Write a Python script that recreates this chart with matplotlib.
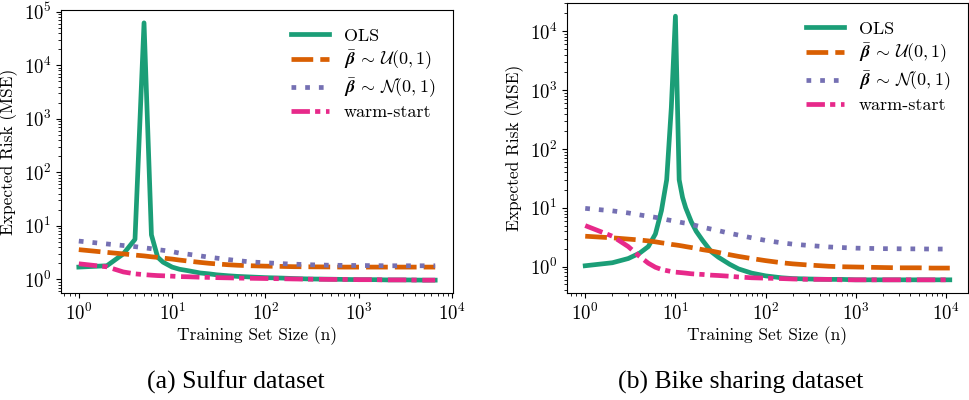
import matplotlib
matplotlib.use("Agg")
import matplotlib.pyplot as plt

plt.rcParams.update({
    "font.family": "serif",
    "font.serif": ["cmr10"],
    "mathtext.fontset": "cm",
    "axes.formatter.use_mathtext": True,
    "axes.unicode_minus": False,
    "font.size": 12.5,
    "xtick.labelsize": 13.5,
    "ytick.labelsize": 13.5,
    "legend.fontsize": 13,
})

# Sulfur dataset
n_sulfur = [1, 2, 3, 4, 5, 6, 7, 8, 10, 12, 15, 20, 25, 30, 40, 50, 70, 100, 150,
            200, 300, 500, 700, 1000, 1500, 2000, 3000, 5000, 6600]
ols_sulfur = [1.7, 1.8, 3.0, 5.6, 6.2e4, 6.8, 2.6, 2.1, 1.7, 1.55, 1.45, 1.32, 1.27,
              1.22, 1.17, 1.14, 1.11, 1.08, 1.06, 1.04, 1.02, 1.01, 1.0, 0.99, 0.99,
              0.98, 0.98, 0.97, 0.97]
unif_sulfur = [3.6, 3.2, 3.0, 2.85, 2.75, 2.65, 2.58, 2.5, 2.4, 2.3, 2.2, 2.08, 2.0,
               1.95, 1.88, 1.84, 1.8, 1.77, 1.75, 1.73, 1.72, 1.71, 1.7, 1.7, 1.7,
               1.7, 1.7, 1.7, 1.7]
norm_sulfur = [5.2, 4.6, 4.3, 4.1, 3.9, 3.75, 3.6, 3.5, 3.3, 3.1, 2.95, 2.75, 2.6,
               2.5, 2.35, 2.25, 2.12, 2.05, 1.97, 1.93, 1.88, 1.84, 1.83, 1.82, 1.81,
               1.8, 1.8, 1.8, 1.8]
warm_sulfur = [1.96, 1.72, 1.38, 1.27, 1.23, 1.2, 1.18, 1.17, 1.15, 1.13, 1.12, 1.1,
               1.09, 1.08, 1.07, 1.06, 1.05, 1.04, 1.03, 1.02, 1.01, 1.0, 1.0, 0.99,
               0.99, 0.98, 0.98, 0.97, 0.97]

# Bike sharing dataset
n_bike = [1, 2, 3, 4, 5, 6, 7, 8, 9, 10, 11, 12, 13, 15, 17, 20, 25, 30, 40, 50, 70,
          100, 150, 200, 300, 500, 700, 1000, 2000, 3000, 5000, 7000, 11000]
ols_bike = [1.04, 1.17, 1.38, 1.7, 2.2, 3.6, 9, 30, 500, 1.8e4, 30, 15, 10, 5.8, 4.0,
            2.8, 1.8, 1.45, 1.1, 0.92, 0.78, 0.7, 0.65, 0.63, 0.62, 0.61, 0.61, 0.6,
            0.6, 0.6, 0.6, 0.6, 0.6]
unif_bike = [3.3, 3.1, 2.95, 2.85, 2.75, 2.65, 2.55, 2.48, 2.4, 2.35, 2.3, 2.25, 2.2,
             2.12, 2.05, 1.95, 1.85, 1.75, 1.6, 1.5, 1.38, 1.27, 1.17, 1.12, 1.07,
             1.02, 1.0, 0.99, 0.97, 0.96, 0.96, 0.95, 0.95]
norm_bike = [9.8, 8.9, 8.2, 7.6, 7.2, 6.9, 6.6, 6.3, 6.1, 5.9, 5.75, 5.6, 5.5, 5.2,
             5.0, 4.7, 4.35, 4.1, 3.7, 3.45, 3.1, 2.8, 2.55, 2.42, 2.3, 2.17, 2.12,
             2.07, 2.03, 2.02, 2.01, 2.0, 2.0]
warm_bike = [5.0, 3.3, 2.2, 1.5, 1.15, 0.98, 0.9, 0.86, 0.83, 0.81, 0.8, 0.79, 0.78,
             0.76, 0.75, 0.74, 0.72, 0.71, 0.69, 0.67, 0.65, 0.64, 0.63, 0.62, 0.61,
             0.61, 0.6, 0.6, 0.6, 0.6, 0.6, 0.6, 0.6]

labels = ["OLS",
          r"$\bar{\boldsymbol{\beta}}\,\sim\,\mathcal{U}(0,1)$",
          r"$\bar{\boldsymbol{\beta}}\,\sim\,\mathcal{N}(0,1)$",
          "warm-start"]
colors = ["#1b9e77", "#d95f02", "#7570b3", "#e7298a"]
# dash patterns in units of line width (None -> solid)
dash_patterns = [None, (4.6, 1.5), (1.0, 1.9), (3.9, 1.1, 1.1, 1.2)]
captions = ["(a) Sulfur dataset", "(b) Bike sharing dataset"]

fig = plt.figure(figsize=(9.7, 4.0), dpi=100)
ax1 = fig.add_axes([61 / 970, 107 / 400, 392 / 970, 283 / 400])
ax2 = fig.add_axes([567 / 970, 107 / 400, 401 / 970, 290 / 400])

panels = [
    (ax1, n_sulfur, [ols_sulfur, unif_sulfur, norm_sulfur, warm_sulfur]),
    (ax2, n_bike, [ols_bike, unif_bike, norm_bike, warm_bike]),
]

for ax, n, series in panels:
    for y, lab, c, d in zip(series, labels, colors, dash_patterns):
        line, = ax.plot(n, y, color=c, lw=3.4, label=lab)
        if d is not None:
            line.set_dashes(d)
    ax.set_xscale("log")
    ax.set_yscale("log")
    ax.set_xlabel("Training Set Size (n)", labelpad=2)
    ax.set_ylabel("Expected Risk (MSE)")
    ax.legend(loc="upper right", frameon=False, handlelength=2.1,
              borderaxespad=0.6, labelspacing=0.25, handletextpad=0.8)

fig.text(236 / 970, 1 - 382 / 400, captions[0], ha="center", va="center",
         family="Liberation Serif", fontsize=18.5)
fig.text(741 / 970, 1 - 382 / 400, captions[1], ha="center", va="center",
         family="Liberation Serif", fontsize=18.5)

fig.savefig("out.png", dpi=100)
